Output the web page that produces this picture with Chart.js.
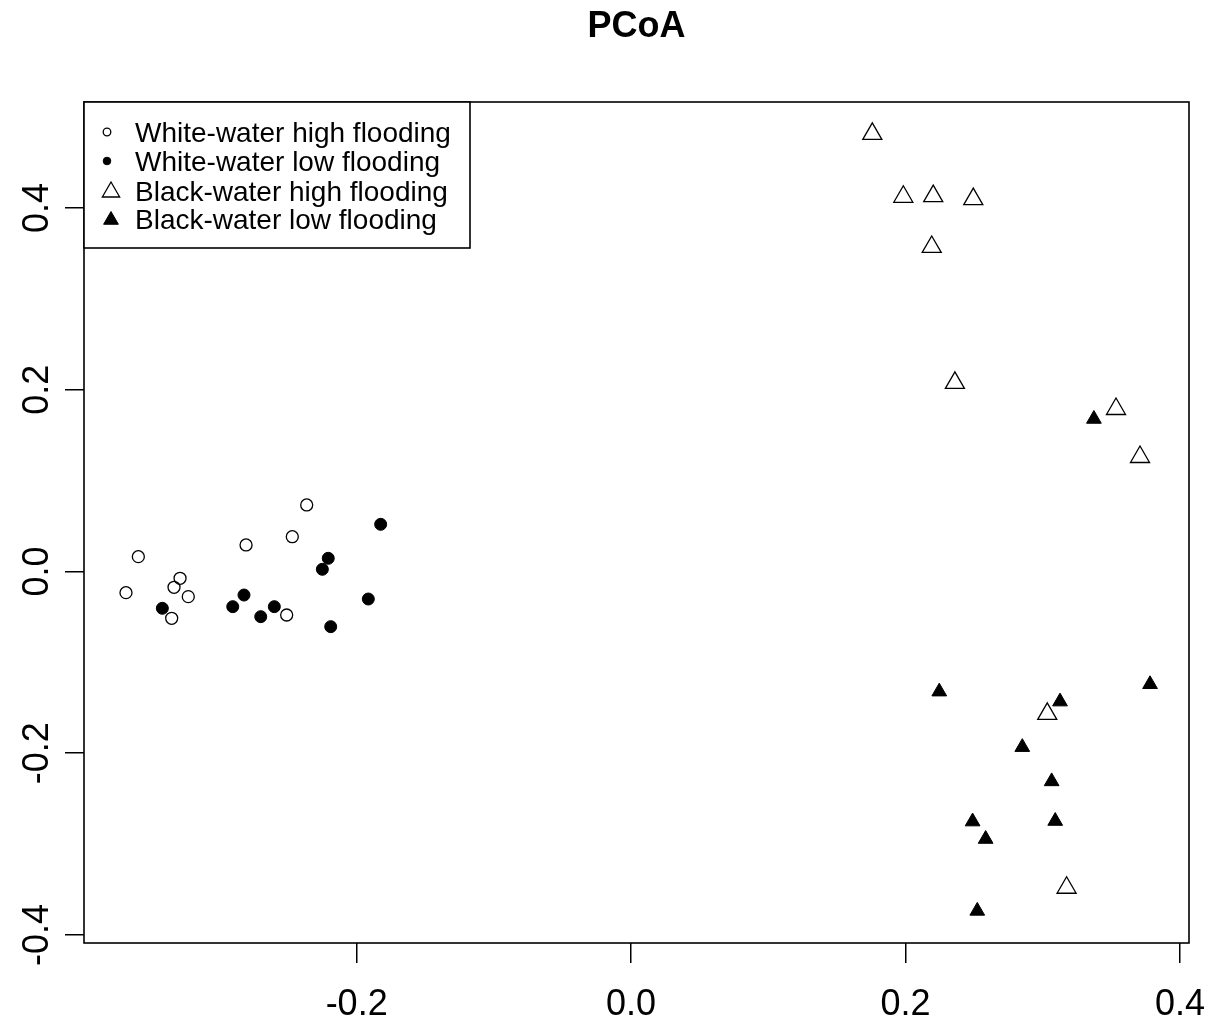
<!DOCTYPE html>
<html>
<head>
<meta charset="utf-8">
<script src="https://cdn.jsdelivr.net/npm/chart.js@4.4.0/dist/chart.umd.min.js"></script>
<style>
  html, body { margin: 0; padding: 0; background: #ffffff; }
  #wrap { width: 1221px; height: 1020px; }
</style>
</head>
<body>
<div id="wrap"><canvas id="c" width="1221" height="1020"></canvas></div>
<script>
// ---- Data ----
const chartTitle = "PCoA";
const seriesNames = ["White-water high flooding", "White-water low flooding", "Black-water high flooding", "Black-water low flooding"];

const whiteHighX = [-0.3681, -0.3591, -0.3287, -0.3331, -0.3227, -0.3348, -0.2806, -0.2469, -0.2364, -0.2510];
const whiteHighY = [-0.0233, 0.0163, -0.0075, -0.0174, -0.0277, -0.0515, 0.0292, 0.0383, 0.0732, -0.0479];

const whiteLowX = [-0.3416, -0.2821, -0.2903, -0.2699, -0.2600, -0.2207, -0.2250, -0.1825, -0.1915, -0.2189];
const whiteLowY = [-0.0405, -0.0259, -0.0387, -0.0497, -0.0387, 0.0145, 0.0024, 0.0519, -0.0303, -0.0607];

const blackHighX = [0.1758, 0.1984, 0.2202, 0.2494, 0.2191, 0.2360, 0.3534, 0.3709, 0.3033, 0.3174];
const blackHighY = [0.4815, 0.4123, 0.4130, 0.4097, 0.3571, 0.2075, 0.1788, 0.1260, -0.1566, -0.3480];

const blackLowX = [0.3373, 0.2246, 0.3126, 0.3782, 0.2851, 0.3065, 0.2489, 0.3091, 0.2584, 0.2523];
const blackLowY = [0.1678, -0.1322, -0.1432, -0.1241, -0.1933, -0.2310, -0.2752, -0.2746, -0.2944, -0.3735];

const xTicks = [-0.2, 0.0, 0.2, 0.4];
const yTicks = [-0.4, -0.2, 0.0, 0.2, 0.4];
const xRange = [-0.3987, 0.4066];
const yRange = [-0.4088, 0.5166];

// ---- Build ----
function pts(xs, ys) { return xs.map((x, i) => ({ x: x, y: ys[i] })); }

const styles = [
  { pointStyle: 'circle',   radius: 6,   fill: 'rgba(0,0,0,0)', lw: 1.3, legendR: 3.8 },
  { pointStyle: 'circle',   radius: 6,   fill: '#000000',       lw: 1.0, legendR: 3.8 },
  { pointStyle: 'triangle', radius: 11,  fill: 'rgba(0,0,0,0)', lw: 1.3, legendR: 10 },
  { pointStyle: 'triangle', radius: 8.5, fill: '#000000',       lw: 1.0, legendR: 8.5 }
];
const seriesData = [pts(whiteHighX, whiteHighY), pts(whiteLowX, whiteLowY), pts(blackHighX, blackHighY), pts(blackLowX, blackLowY)];

const datasets = seriesNames.map((name, i) => ({
  label: name,
  data: seriesData[i],
  pointStyle: styles[i].pointStyle,
  pointRadius: styles[i].radius,
  pointHoverRadius: styles[i].radius,
  pointBackgroundColor: styles[i].fill,
  pointBorderColor: '#000000',
  pointBorderWidth: styles[i].lw,
  showLine: false
}));

const tickFont = { family: "'Liberation Sans', Arial, sans-serif", size: 36 };

const framePlugin = {
  id: 'frameAndLegend',
  afterDraw(chart) {
    const ctx = chart.ctx;
    const a = chart.chartArea;
    ctx.save();
    // plot box
    ctx.strokeStyle = '#000000';
    ctx.lineWidth = 1.6;
    ctx.strokeRect(a.left, a.top, a.right - a.left, a.bottom - a.top);
    // title
    ctx.fillStyle = '#000000';
    ctx.font = "bold 36px 'Liberation Sans', Arial, sans-serif";
    ctx.textAlign = 'center';
    ctx.textBaseline = 'alphabetic';
    ctx.fillText(chartTitle, (a.left + a.right) / 2, 37);
    // legend
    const lx = a.left, ly = a.top, lw = 386, lh = 146;
    ctx.fillStyle = '#ffffff';
    ctx.fillRect(lx, ly, lw, lh);
    ctx.strokeStyle = '#000000';
    ctx.lineWidth = 1.6;
    ctx.strokeRect(lx, ly, lw, lh);
    const rowY = [133, 162, 192, 220];
    const markX = [107, 107, 111, 111];
    ctx.font = "28px 'Liberation Sans', Arial, sans-serif";
    ctx.textAlign = 'left';
    ctx.textBaseline = 'middle';
    seriesNames.forEach((name, i) => {
      const s = styles[i];
      ctx.fillStyle = s.fill;
      ctx.strokeStyle = '#000000';
      ctx.lineWidth = s.lw;
      Chart.helpers.drawPoint(ctx, { pointStyle: s.pointStyle, radius: s.legendR, borderWidth: s.lw, rotation: 0 }, markX[i], rowY[i] + (s.pointStyle === 'triangle' ? 0 : -1));
      ctx.fillStyle = '#000000';
      ctx.fillText(name, 135, rowY[i] + 1);
    });
    ctx.restore();
  }
};

new Chart(document.getElementById('c'), {
  type: 'scatter',
  data: { datasets: datasets },
  options: {
    responsive: false,
    animation: false,
    events: [],
    layout: { padding: { top: 102, right: 32, bottom: 0, left: 0 } },
    plugins: {
      legend: { display: false },
      title: { display: false },
      tooltip: { enabled: false }
    },
    scales: {
      x: {
        type: 'linear',
        position: 'bottom',
        min: xRange[0],
        max: xRange[1],
        afterBuildTicks(scale) { scale.ticks = xTicks.map(v => ({ value: v })); },
        afterFit(scale) { scale.height = 77; scale.paddingLeft = 0; scale.paddingRight = 0; },
        grid: { drawOnChartArea: false, drawTicks: true, tickLength: 20, color: '#000000', lineWidth: 1.5 },
        border: { display: false },
        ticks: {
          color: '#000000',
          font: tickFont,
          padding: 20,
          maxRotation: 0,
          minRotation: 0,
          autoSkip: false,
          callback: (v) => Number(v).toFixed(1)
        }
      },
      y: {
        type: 'linear',
        position: 'left',
        min: yRange[0],
        max: yRange[1],
        afterBuildTicks(scale) { scale.ticks = yTicks.map(v => ({ value: v })); },
        afterFit(scale) { scale.width = 84; scale.paddingTop = 0; scale.paddingBottom = 0; },
        grid: { drawOnChartArea: false, drawTicks: true, tickLength: 19, color: '#000000', lineWidth: 1.5 },
        border: { display: false },
        ticks: {
          color: '#000000',
          font: tickFont,
          padding: -4,
          minRotation: 90,
          maxRotation: 90,
          crossAlign: 'center',
          autoSkip: false,
          callback: (v) => Number(v).toFixed(1)
        }
      }
    }
  },
  plugins: [framePlugin]
});
</script>
</body>
</html>
